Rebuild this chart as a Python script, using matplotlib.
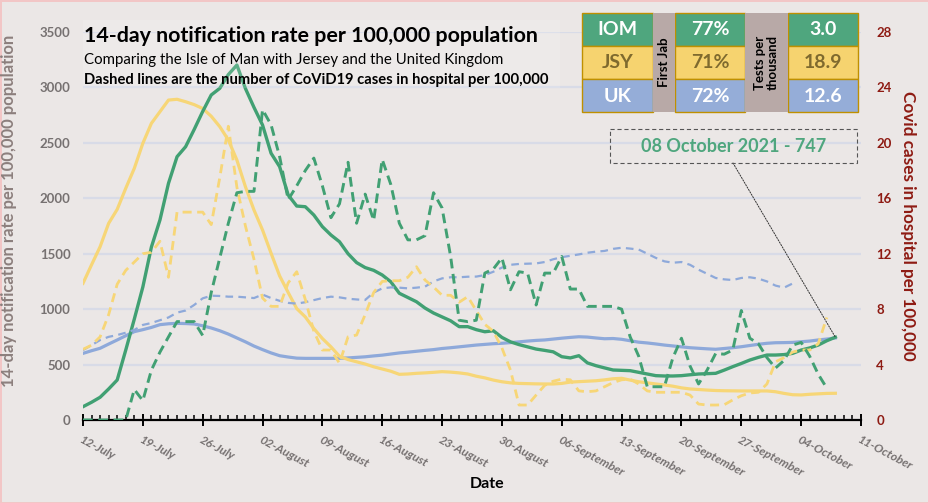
import numpy as np
import pandas as pd
import matplotlib
matplotlib.use('Agg')
import matplotlib.pyplot as plt
import matplotlib.dates as mdates
from matplotlib.patches import Rectangle

plt.rcParams['font.family'] = ['Lato', 'DejaVu Sans']
plt.rcParams['lines.scale_dashes'] = False

# ---------------- data ----------------
start_date = np.datetime64('2021-07-12')
end_date = np.datetime64('2021-10-11')

iom_rate = [120, 160, 205, 280, 361, 631, 910, 1200, 1560, 1804, 2135, 2375, 2465, 2620, 2783,
            2932, 2992, 3116, 3202, 2990, 2820, 2661, 2406, 2285, 2030, 1930, 1924, 1849, 1744,
            1669, 1608, 1500, 1420, 1375, 1350, 1308, 1247, 1143, 1105, 1067, 1010, 965, 930,
            895, 842, 842, 815, 796, 805, 745, 705, 680, 660, 640, 628, 615, 571, 560, 580, 515,
            490, 470, 451, 448, 445, 430, 415, 400, 397, 397, 400, 408, 415, 418, 421, 450, 481,
            510, 541, 565, 586, 586, 590, 601, 631, 650, 676, 715, 747]
jsy_rate = [1233, 1400, 1563, 1774, 1900, 2090, 2270, 2496, 2676, 2781, 2886, 2893, 2871, 2845,
            2810, 2740, 2646, 2526, 2345, 2104, 1894, 1714, 1504, 1300, 1150, 1005, 930, 825,
            735, 660, 575, 545, 525, 505, 480, 460, 440, 412, 415, 421, 425, 430, 436, 432, 425,
            415, 395, 380, 360, 345, 335, 330, 328, 326, 325, 325, 330, 342, 346, 350, 354, 362,
            372, 376, 360, 345, 335, 325, 316, 305, 290, 280, 275, 270, 266, 264, 263, 262, 262,
            262, 262, 255, 240, 228, 226, 232, 236, 240, 241]
uk_rate = [601, 625, 647, 685, 722, 760, 797, 815, 835, 860, 868, 872, 870, 866, 850, 830, 805,
           775, 740, 705, 667, 635, 605, 580, 568, 558, 556, 556, 556, 556, 557, 560, 565, 570,
           578, 585, 595, 605, 612, 620, 628, 635, 645, 652, 660, 668, 676, 682, 688, 692, 698,
           705, 712, 718, 722, 730, 738, 745, 751, 748, 740, 733, 735, 728, 715, 702, 695, 686,
           676, 668, 660, 652, 647, 642, 638, 645, 652, 661, 672, 683, 692, 697, 698, 700, 706,
           712, 722, 730, 740]

iom_hosp = [0, 0, 0, 0, 0, 0, 2.2, 1.4, 3.6, 4.9, 6.0, 7.1, 7.1, 7.1, 6.1, 9.2, 11.7, 14.2,
            16.4, 16.5, 16.5, 22.4, 21.3, 19.0, 15.9, 16.9, 18.0, 18.9, 16.9, 14.6, 15.6, 18.6,
            14.2, 16.3, 14.4, 18.8, 17.0, 14.2, 13.0, 13.0, 13.3, 16.4, 15.3, 11.8, 7.2, 7.1,
            7.2, 10.6, 10.9, 11.7, 9.4, 10.7, 10.6, 8.3, 10.6, 10.6, 11.8, 9.45, 9.45, 8.2, 8.2,
            8.2, 8.2, 8.0, 6.0, 4.6, 2.4, 2.4, 2.4, 4.5, 5.9, 3.9, 2.6, 3.6, 4.8, 4.75, 5.05,
            7.9, 5.9, 5.5, 4.5, 3.75, 4.3, 5.4, 5.6, 4.6, 3.3, 2.3]
jsy_hosp = [5.1, 5.4, 6.0, 7.6, 9.8, 10.8, 11.4, 12.0, 12.1, 12.9, 10.3, 15.0, 15.0, 15.0,
            15.0, 14.1, 17.5, 21.2, 16.8, 14.0, 11.6, 8.8, 8.2, 8.2, 9.9, 10.7, 8.7, 6.4, 5.05,
            5.05, 4.1, 6.0, 6.13, 7.6, 9.2, 10.0, 10.05, 10.05, 10.3, 11.06, 10.1, 9.6, 9.0, 9.0,
            8.5, 8.9, 7.9, 6.9, 6.4, 5.2, 3.6, 1.08, 1.08, 1.8, 2.5, 2.8, 2.95, 2.9, 2.1, 2.04,
            2.1, 2.4, 2.7, 2.9, 2.95, 2.6, 2.1, 2.0, 2.0, 2.0, 2.0, 1.8, 1.15, 1.08, 1.08, 1.1,
            1.45, 1.75, 1.95, 2.0, 2.6, 4.2, 4.5, 4.9, 5.05, 5.05, 5.5, 7.4]
uk_hosp = [5.05, 5.4, 5.77, 6.0, 6.13, 6.3, 6.5, 6.86, 7.0, 7.2, 7.4, 7.75, 7.9, 8.3, 8.78,
           8.97, 8.95, 8.9, 8.9, 8.85, 8.8, 9.05, 8.8, 8.6, 8.45, 8.4, 8.5, 8.65, 8.8, 8.9, 8.85,
           8.75, 8.7, 8.66, 9.2, 9.5, 9.57, 9.55, 9.5, 9.55, 9.62, 10.0, 10.22, 10.3, 10.3,
           10.34, 10.35, 10.46, 10.7, 11.0, 11.2, 11.26, 11.28, 11.3, 11.4, 11.6, 11.75, 11.85,
           11.95, 12.07, 12.15, 12.2, 12.35, 12.43, 12.37, 12.3, 12.0, 11.7, 11.45, 11.35, 11.4,
           11.2, 10.85, 10.55, 10.25, 10.15, 10.1, 10.25, 10.3, 10.2, 10.0, 9.7, 9.55, 9.85]

islands = ['IOM', 'JSY', 'UK']
first_jab = ['77%', '71%', '72%']
tests_per_thousand = ['3.0', '18.9', '12.6']

# ---------------- styles ----------------
GREEN = '#41A073'
YELLOW = '#F7D677'
BLUE = '#8EA9DA'
BG = '#EBE7E6'
GRID = '#D8DBE7'
TICKGREY = '#767171'
DARKRED = '#8E1B13'


def dates_for(values):
    return start_date + np.arange(len(values)).astype('timedelta64[D]')


W, H = 929, 503
fig = plt.figure(figsize=(W / 100, H / 100), dpi=100)
fig.patch.set_facecolor(BG)
fig.patch.set_edgecolor('#F2C6C6')
fig.patch.set_linewidth(2)

L, R, B, T = 83, 861, 420, 32
ax = fig.add_axes([L / W, 1 - B / H, (R - L) / W, (B - T) / H])
ax.set_facecolor('none')
ax2 = ax.twinx()

ax.set_ylim(0, 3500)
ax2.set_ylim(0, 28)
ax.set_yticks(np.arange(0, 3501, 500))
ax2.set_yticks(np.arange(0, 29, 4))
ax.set_xlim(start_date, end_date)

ax.set_axisbelow(True)
ax.grid(axis='y', color=GRID, linewidth=1.6)

# solid lines: 14-day rate
ax.plot(dates_for(uk_rate), uk_rate, color=BLUE, lw=2.3, solid_joinstyle='round', zorder=3)
ax.plot(dates_for(jsy_rate), jsy_rate, color=YELLOW, lw=2.3, solid_joinstyle='round', zorder=3)
ax.plot(dates_for(iom_rate), iom_rate, color=GREEN, lw=2.4, solid_joinstyle='round', zorder=4)

# dashed lines: hospital
ax2.plot(dates_for(uk_hosp), uk_hosp, color=BLUE, lw=1.6, dashes=(5.5, 3.8))
ax2.plot(dates_for(jsy_hosp), jsy_hosp, color=YELLOW, lw=2.0, dashes=(6.5, 4.0))
ax2.plot(dates_for(iom_hosp), iom_hosp, color=GREEN, lw=2.1, dashes=(7.0, 4.0))

for s in ['top', 'left', 'right']:
    ax.spines[s].set_visible(False)
for s in ax2.spines.values():
    s.set_visible(False)
ax.spines['bottom'].set_color('black')
ax.spines['bottom'].set_linewidth(1.6)
ax.spines['bottom'].set_zorder(6)

ax.xaxis.set_major_locator(mdates.WeekdayLocator(byweekday=mdates.MO))
ax.xaxis.set_minor_locator(mdates.DayLocator())
ax.xaxis.set_major_formatter(mdates.DateFormatter('%d-%B'))
ax.tick_params(axis='x', which='major', direction='inout', length=8, width=1.4, color='black', pad=6)
ax.tick_params(axis='x', which='minor', direction='in', length=3.5, width=1.1, color='black')
for lbl in ax.get_xticklabels():
    lbl.set_rotation(-28)
    lbl.set_ha('left')
    lbl.set_va('top')
    lbl.set_rotation_mode('anchor')
    lbl.set_fontweight('bold')
    lbl.set_fontstyle('italic')
    lbl.set_color(TICKGREY)
    lbl.set_fontsize(8.7)

ax.tick_params(axis='y', length=0, pad=9, labelsize=9.5, labelcolor=TICKGREY)
for lbl in ax.get_yticklabels():
    lbl.set_fontweight('bold')
ax2.tick_params(axis='y', length=0, pad=11, labelsize=9.5, labelcolor=DARKRED)
for lbl in ax2.get_yticklabels():
    lbl.set_fontweight('bold')

ax.set_ylabel('14-day notification rate per 100,000 population', color='#8C7F7D',
              fontweight='bold', fontsize=12)
ax.yaxis.set_label_coords(-0.0845, 0.54)
ax2.set_ylabel('Covid cases in hospital per 100,000', color=DARKRED, fontweight='bold',
               fontsize=12.3, rotation=270, va='center')
ax2.yaxis.set_label_coords(1.06, 0.5)
ax.set_xlabel('Date', fontweight='bold', fontsize=11.5, color='black')
ax.xaxis.set_label_coords(0.519, -0.165)
ax.xaxis.label.set_va('center')

# leader line from annotation box to last IOM value
last_date = dates_for(iom_rate)[-1]
ax.annotate('', xy=(last_date, iom_rate[-1]), xycoords='data',
            xytext=(733, H - 163), textcoords='figure pixels',
            arrowprops=dict(arrowstyle='-', color='#333333', lw=0.7, linestyle=(0, (1, 1)),
                            shrinkA=0, shrinkB=0), zorder=8)

# ---------------- overlay (title, table, annotation) ----------------
ov = fig.add_axes([0, 0, 1, 1], zorder=10)
ov.set_xlim(0, W)
ov.set_ylim(H, 0)
ov.axis('off')
ov.patch.set_alpha(0)

ov.add_patch(Rectangle((83, 20), 477, 68, facecolor='white', alpha=0.15, edgecolor='none'))
ov.text(84, 36, '14-day notification rate per 100,000 population', fontsize=15.4,
        fontweight='bold', color='black', ha='left', va='center')
ov.text(84, 60, 'Comparing the Isle of Man with Jersey and the United Kingdom', fontsize=10.8,
        color='black', ha='left', va='center')
ov.text(84, 80, 'Dashed lines are the number of CoViD19 cases in hospital per 100,000',
        fontsize=10.6, fontweight='bold', color='black', ha='left', va='center')

# table
col_edges = [582, 653, 675, 745, 788, 858]
row_edges = [12.5, 45.8, 79.1, 112.4]
row_fill = ['#4FA67E', '#F6D36F', '#95ADD8']
row_text = ['white', '#7F6A2E', 'white']
grey_fill = '#B8A9A7'
border = '#BF9000'
for i, (name, jab, tests) in enumerate(zip(islands, first_jab, tests_per_thousand)):
    y0, y1 = row_edges[i], row_edges[i + 1]
    for (c0, c1), txt in zip([(0, 1), (2, 3), (4, 5)], [name, jab, tests]):
        x0, x1 = col_edges[c0], col_edges[c1]
        ov.add_patch(Rectangle((x0, y0), x1 - x0, y1 - y0, facecolor=row_fill[i],
                               edgecolor=border, lw=1.0))
        ov.text((x0 + x1) / 2, (y0 + y1) / 2 + 0.5, txt, ha='center', va='center',
                fontsize=14, fontweight='bold', color=row_text[i])
for c0, c1, txt, fs in [(1, 2, 'First Jab', 9.5), (3, 4, 'Tests per\nthousand', 9.5)]:
    x0, x1 = col_edges[c0], col_edges[c1]
    ov.add_patch(Rectangle((x0, row_edges[0]), x1 - x0, row_edges[-1] - row_edges[0],
                           facecolor=grey_fill, edgecolor='none'))
    ov.text((x0 + x1) / 2, (row_edges[0] + row_edges[-1]) / 2, txt, rotation=90,
            ha='center', va='center', fontsize=fs, fontweight='bold', color='black',
            linespacing=1.0, multialignment='center')

# annotation box
ov.add_patch(Rectangle((610, 129), 247, 34, facecolor='none', edgecolor='#555555', lw=0.8,
                       linestyle=(0, (3, 2))))
ann_text = f"{pd.Timestamp(last_date).strftime('%d %B %Y')} - {iom_rate[-1]}"
ov.text(733.5, 147, ann_text, ha='center', va='center', fontsize=13, fontweight='bold',
        color='#4FA67E')

fig.savefig('out.png', dpi=100, facecolor=fig.get_facecolor())
